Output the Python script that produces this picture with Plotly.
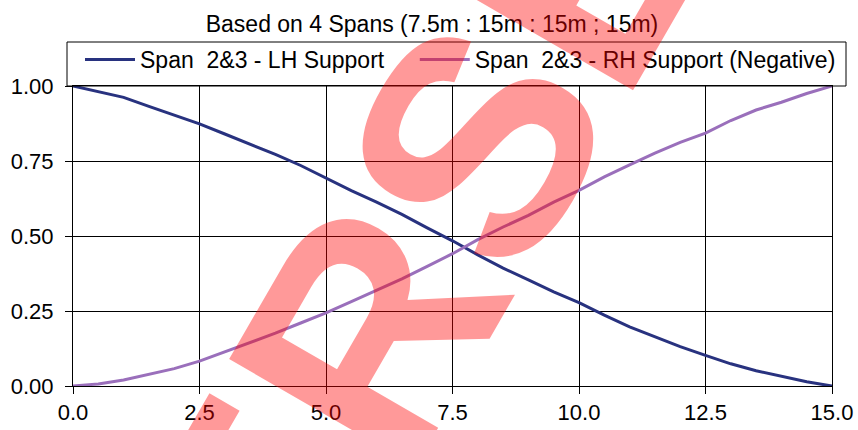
import plotly.graph_objects as go

# Position along span 2&3 (m)
position_m = [0.0, 0.5, 1.0, 1.5, 2.0, 2.5, 3.0, 3.5, 4.0, 4.5, 5.0, 5.5, 6.0, 6.5, 7.0, 7.5,
              8.0, 8.5, 9.0, 9.5, 10.0, 10.5, 11.0, 11.5, 12.0, 12.5, 13.0, 13.5, 14.0, 14.5, 15.0]

# Influence coefficients at the left-hand support
lh_support = [1.000, 0.981, 0.962, 0.932, 0.903, 0.874, 0.840, 0.807, 0.772, 0.735, 0.694,
              0.651, 0.613, 0.572, 0.527, 0.484, 0.437, 0.393, 0.354, 0.314, 0.278,
              0.236, 0.197, 0.163, 0.131, 0.102, 0.074, 0.051, 0.032, 0.014, 0.000]

# Influence coefficients at the right-hand support (negative)
rh_support = [0.000, 0.007, 0.020, 0.038, 0.058, 0.083, 0.114, 0.144, 0.176, 0.210, 0.244,
              0.281, 0.320, 0.357, 0.399, 0.441, 0.488, 0.530, 0.569, 0.613, 0.652,
              0.697, 0.737, 0.776, 0.812, 0.843, 0.885, 0.920, 0.946, 0.975, 1.000]

NBSP = "\u00a0"
series_names = ["Span" + NBSP * 2 + "2&3 - LH Support" + NBSP * 4,
                "Span" + NBSP * 2 + "2&3 - RH Support (Negative)"]
chart_title = "Based on 4 Spans (7.5m : 15m : 15m ; 15m)"
watermark_text = "VERSE"

W, H = 858, 430
L, R, T, B = 73, 26, 86, 44
FONT = "Liberation Sans, Arial, sans-serif"

plot_w = W - L - R
plot_h = H - T - B


def px_to_paper(px, py):
    return (px - L) / plot_w, (H - B - py) / plot_h


fig = go.Figure()
fig.add_trace(go.Scatter(x=position_m, y=lh_support, mode="lines", name=series_names[0],
                         line=dict(color="#28327f", width=3)))
fig.add_trace(go.Scatter(x=position_m, y=rh_support, mode="lines", name=series_names[1],
                         line=dict(color="#9a6fbb", width=3)))

# Legend frame
bx0, by0 = px_to_paper(67, 86)
bx1, by1 = px_to_paper(846, 42)
fig.add_shape(type="rect", xref="paper", yref="paper", x0=bx0, y0=by0, x1=bx1, y1=by1,
              line=dict(color="black", width=1), fillcolor="rgba(0,0,0,0)", layer="above")

# Watermark
wx, wy = px_to_paper(367, 333)
fig.add_annotation(text="<b>" + watermark_text + "</b>", x=wx, y=wy, xref="paper", yref="paper",
                   showarrow=False, textangle=-60,
                   font=dict(family=FONT, size=313, color="rgba(255,0,0,0.4)"),
                   xanchor="center", yanchor="middle")

lx, ly = px_to_paper(80, 38)
fig.update_layout(
    width=W, height=H,
    margin=dict(l=L, r=R, t=T, b=B, autoexpand=False),
    paper_bgcolor="white", plot_bgcolor="white",
    font=dict(family=FONT, size=22, color="black"),
    title=dict(text=chart_title, x=432 / W, xref="container", xanchor="center",
               y=1 - 24 / H, yref="container", yanchor="middle",
               font=dict(size=23, color="black")),
    showlegend=True,
    legend=dict(orientation="h", x=lx, y=ly, xanchor="left", yanchor="top",
                borderwidth=0, bgcolor="rgba(0,0,0,0)",
                font=dict(size=23), itemwidth=50),
    xaxis=dict(range=[0, 15], dtick=2.5, tick0=0, tickformat=".1f",
               showgrid=True, gridcolor="black", gridwidth=1,
               showline=True, linecolor="black", linewidth=1, mirror=True,
               ticks="outside", ticklen=7, tickcolor="black", zeroline=False,
               automargin=False, tickfont=dict(size=22)),
    yaxis=dict(range=[0, 1], dtick=0.25, tick0=0, tickformat=".2f",
               showgrid=True, gridcolor="black", gridwidth=1,
               showline=True, linecolor="black", linewidth=1, mirror=True,
               ticks="outside", ticklen=7, tickcolor="black", zeroline=False,
               automargin=False, ticklabelstandoff=7, tickfont=dict(size=22)),
)

fig.write_html("out.html")
